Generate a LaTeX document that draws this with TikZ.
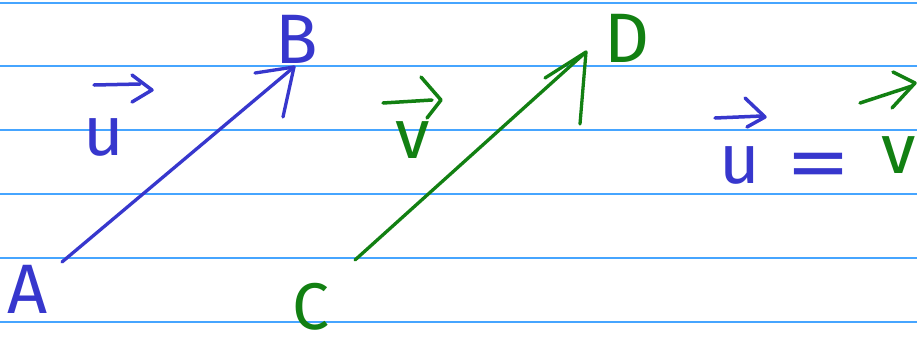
\documentclass[tikz,border=0pt]{standalone}
\usepackage{fontspec}
\setmainfont{Fira Sans}
\usetikzlibrary{arrows.meta}
\definecolor{ruleblue}{RGB}{70,165,255}
\definecolor{inkblue}{RGB}{55,55,205}
\definecolor{inkgreen}{RGB}{18,128,18}
\begin{document}
\begin{tikzpicture}[x=1pt,y=-1pt,
  ruleline/.style={ruleblue, line width=1.6pt},
  vecline/.style={line width=3.3pt, line cap=round, line join=round},
  ink/.style={line width=3.5pt, line cap=round, line join=round},
  letter/.style={inner sep=0pt, anchor=base, font=\fontsize{70}{70}\selectfont},
]
\useasboundingbox (0,0) rectangle (917,341);
\fill[white] (0,0) rectangle (917,341);
\foreach \y in {3,66,130,194,258,322} \draw[ruleline] (0,\y) -- (917,\y);

% vector u = AB
\coordinate (uStart) at (62,262);
\coordinate (uEnd) at (294,67);
\draw[vecline, inkblue] (uStart) -- (uEnd);
\draw[vecline, inkblue] (uEnd) ++(-39,6) -- (uEnd) -- ++(-11,50);

% vector v = CD
\coordinate (vStart) at (355,260);
\coordinate (vEnd) at (586,52);
\draw[vecline, inkgreen] (vStart) -- (vEnd);
\draw[vecline, inkgreen] (vEnd) ++(-41,26) -- (vEnd) -- ++(-6,72);

% point labels
\node[letter, text=inkblue] (A) at (28,313) {A};
\node[letter, text=inkblue] (B) at (297,63) {B};
\node[letter, text=inkgreen, font=\fontsize{66}{66}\selectfont] (C) at (311,329) {C};
\node[letter, text=inkgreen] (D) at (627,62) {D};

% label u
\node[letter, text=inkblue] (u1) at (104,155) {u};
\draw[ink, inkblue] (94,85) -- (140,84);
\draw[ink, inkblue] (132,75) -- (152,90) -- (132,102);

% label v
\node[letter, text=inkgreen] (v1) at (413,158) {v};
\draw[ink, inkgreen] (383,103) -- (432,100);
\draw[ink, inkgreen] (421,77) -- (441,100) -- (427,118);

% u = v
\node[letter, text=inkblue] (u2) at (740,183) {u};
\draw[ink, inkblue] (715,118) -- (762,116);
\draw[ink, inkblue] (745,98) -- (765,117) -- (747,127);
\node[inner sep=0pt, text=inkblue, font=\fontsize{80}{80}\selectfont, xscale=1.6] (eq) at (818,172) {=};
\node[letter, text=inkgreen] (v2) at (899,173) {v};
\draw[ink, inkgreen] (860,103) -- (912,86);
\draw[ink, inkgreen] (893,72) -- (915,83) -- (892,108);
\end{tikzpicture}
\end{document}
